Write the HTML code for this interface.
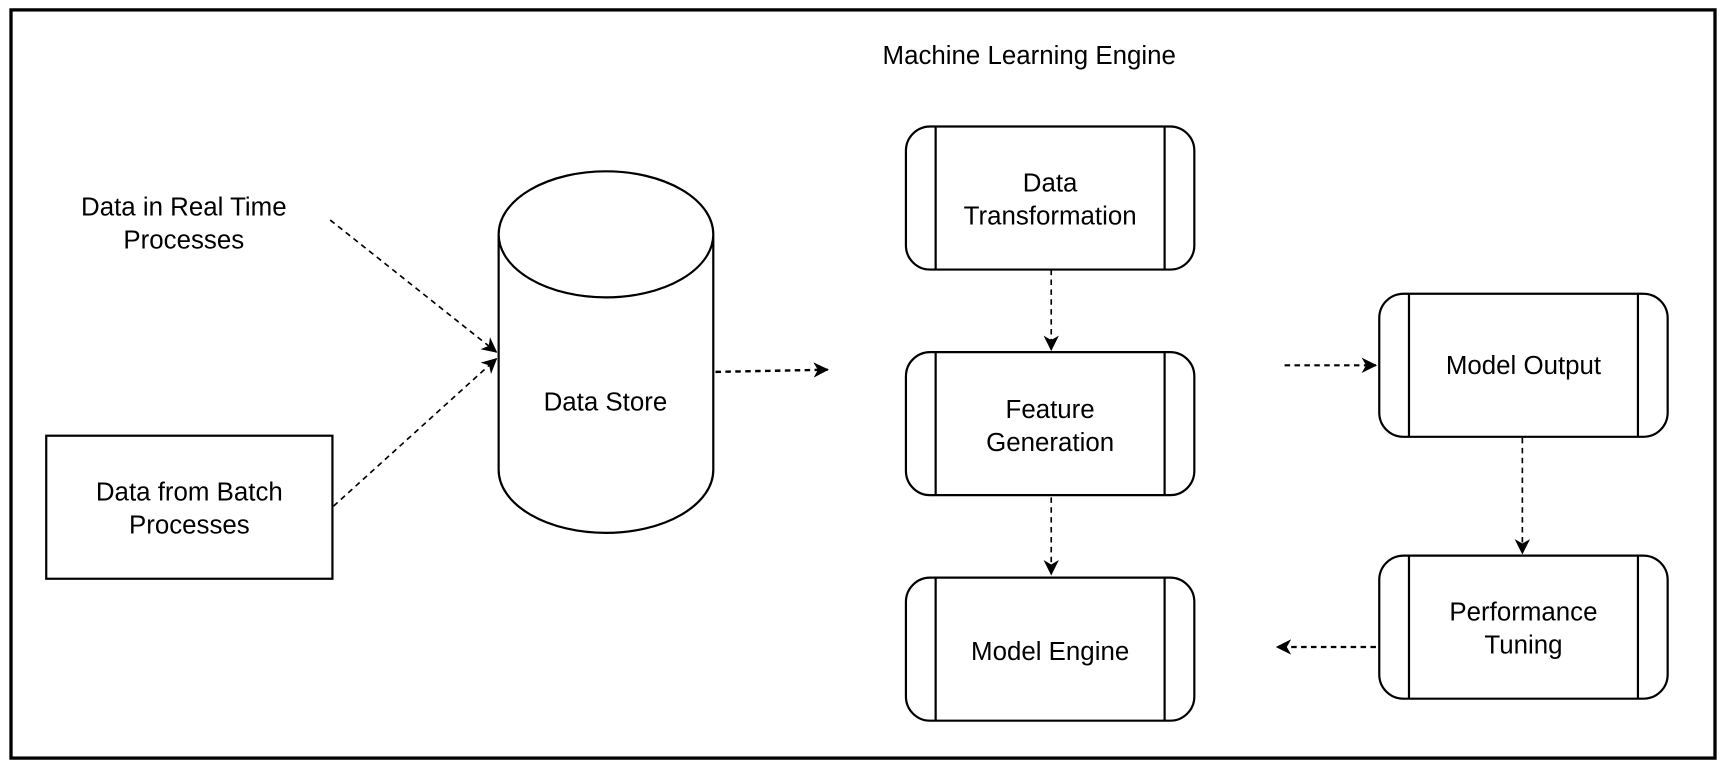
<!DOCTYPE html>
<html><head><style>html,body{margin:0;padding:0;background:#fff}svg{display:block}</style></head><body>
<svg width="1726" height="768" viewBox="0 0 1568 698" preserveAspectRatio="none" xmlns="http://www.w3.org/2000/svg" font-family="Liberation Sans, sans-serif" font-size="23.5" fill="none" stroke="#000">
<defs><marker id="a" markerWidth="14" markerHeight="14" refX="13" refY="7" orient="auto" markerUnits="userSpaceOnUse"><path d="M0,0 L14,7 L0,14 L4,7 Z" fill="#000" stroke="none"/></marker></defs>
<rect x="10" y="9" width="1548" height="680" stroke-width="3"/>
<g fill="#000" stroke="none" text-anchor="middle">
<text x="935" y="58">Machine Learning Engine</text>
<text x="167" y="196">Data in Real Time</text><text x="167" y="226">Processes</text>
<text x="172" y="455">Data from Batch</text><text x="172" y="485">Processes</text>
<text x="550" y="373">Data Store</text>
<text x="954" y="174">Data</text><text x="954" y="204">Transformation</text>
<text x="954" y="380">Feature</text><text x="954" y="410">Generation</text>
<text x="954" y="600">Model Engine</text>
<text x="1384" y="340">Model Output</text>
<text x="1384" y="564">Performance</text><text x="1384" y="594">Tuning</text>
</g>
<g stroke-width="2">
<rect x="42" y="396" width="260" height="130"/>
<path d="M453,213 L453,427 A97,57 0 0 0 648,427 L648,213 A97,57 0 0 0 453,213 A97,57 0 0 0 648,213"/>
<g id="p"><rect x="823" y="115" width="262" height="130" rx="22"/><path d="M850,115V245M1058,115V245"/></g>
<use href="#p" y="205"/><use href="#p" y="410"/>
<use href="#p" x="430" y="152"/><use href="#p" x="430" y="390"/>
</g>
<g stroke-width="1.5" stroke-dasharray="5,4" marker-end="url(#a)">
<path d="M300,200 L451,320"/>
<path d="M303,460 L451,326"/>
<path d="M650,338 L752,336" stroke-width="2.2"/>
<path d="M1167,332 L1250,332" stroke-width="2"/>
<path d="M955,245 L955,318"/>
<path d="M955,452 L955,522"/>
<path d="M1383,398 L1383,503"/>
<path d="M1250,588 L1160,588" stroke-width="2"/>
</g>
</svg>
</body></html>
